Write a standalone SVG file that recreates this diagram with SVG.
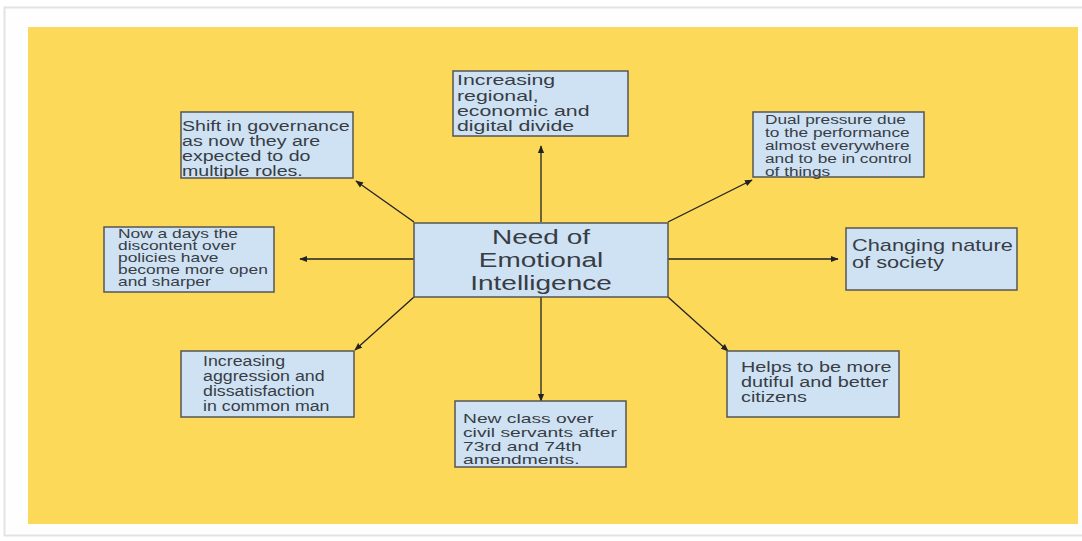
<svg xmlns="http://www.w3.org/2000/svg" width="1082" height="541" viewBox="0 0 1082 541">
<style>
.box{fill:#cfe2f3;stroke:#555;stroke-width:1.5}
.t{font-family:"Liberation Sans",Arial,sans-serif;font-size:14px;fill:#383d45}
.c{stroke:#222;stroke-width:1.3;fill:none;marker-end:url(#ah)}
</style>
<defs>
<marker id="ah" viewBox="0 0 10 10" refX="9" refY="5" markerWidth="6" markerHeight="6" orient="auto"><path d="M0,1 L10,5 L0,9 z" fill="#222"/></marker>
</defs>
<rect x="0" y="0" width="1082" height="541" fill="#ffffff"/>
<rect x="4.5" y="7.5" width="1090" height="528" fill="#fefefe" stroke="#e3e3e3" stroke-width="2"/>
<rect x="28" y="27" width="1050" height="497" fill="#fdd95a"/>
<g id="connectors">
<line class="c" x1="541" y1="222" x2="541" y2="146"/>
<line class="c" x1="414" y1="222" x2="356" y2="181"/>
<line class="c" x1="668" y1="222" x2="752" y2="180"/>
<line class="c" x1="414" y1="259" x2="300" y2="259"/>
<line class="c" x1="668" y1="259" x2="838" y2="259"/>
<line class="c" x1="414" y1="297" x2="355" y2="350"/>
<line class="c" x1="541" y1="297" x2="541" y2="401"/>
<line class="c" x1="668" y1="297" x2="728" y2="351"/>
</g>
<g id="center">
<rect class="box" x="414" y="223" width="254" height="74"/>
<text class="t" style="font-size:20px" text-anchor="middle" transform="translate(541 0) scale(1.4 1)"><tspan x="0" y="244">Need of</tspan><tspan x="0" y="267">Emotional</tspan><tspan x="0" y="290">Intelligence</tspan></text>
</g>
<g id="n-top">
<rect class="box" x="453" y="71" width="175" height="65"/>
<text class="t" style="font-size:15px" transform="translate(457 0) scale(1.42 1)"><tspan x="0" y="85">Increasing</tspan><tspan x="0" y="101">regional,</tspan><tspan x="0" y="116">economic and</tspan><tspan x="0" y="131">digital divide</tspan></text>
</g>
<g id="n-topleft">
<rect class="box" x="181" y="112" width="172" height="66"/>
<text class="t" style="font-size:14px" transform="translate(182 0) scale(1.4 1)"><tspan x="0" y="131">Shift in governance</tspan><tspan x="0" y="146">as now they are</tspan><tspan x="0" y="161">expected to do</tspan><tspan x="0" y="176">multiple roles.</tspan></text>
</g>
<g id="n-topright">
<rect class="box" x="753" y="112" width="171" height="65"/>
<text class="t" style="font-size:12.5px" transform="translate(765 0) scale(1.38 1)"><tspan x="0" y="124">Dual pressure due</tspan><tspan x="0" y="137">to the performance</tspan><tspan x="0" y="150">almost everywhere</tspan><tspan x="0" y="163">and to be in control</tspan><tspan x="0" y="176">of things</tspan></text>
</g>
<g id="n-left">
<rect class="box" x="104" y="227" width="170" height="65"/>
<text class="t" style="font-size:12px" transform="translate(118 0) scale(1.45 1)"><tspan x="0" y="238">Now a days the</tspan><tspan x="0" y="250">discontent over</tspan><tspan x="0" y="262">policies have</tspan><tspan x="0" y="274">become more open</tspan><tspan x="0" y="286">and sharper</tspan></text>
</g>
<g id="n-right">
<rect class="box" x="846" y="228" width="171" height="62"/>
<text class="t" style="font-size:16px" transform="translate(852 0) scale(1.36 1)"><tspan x="0" y="251">Changing nature</tspan><tspan x="0" y="268">of society</tspan></text>
</g>
<g id="n-bottomleft">
<rect class="box" x="181" y="351" width="173" height="66"/>
<text class="t" style="font-size:14px" transform="translate(203 0) scale(1.27 1)"><tspan x="0" y="366">Increasing</tspan><tspan x="0" y="381">aggression and</tspan><tspan x="0" y="396">dissatisfaction</tspan><tspan x="0" y="411">in common man</tspan></text>
</g>
<g id="n-bottom">
<rect class="box" x="455" y="401" width="171" height="66"/>
<text class="t" style="font-size:13px" transform="translate(463 0) scale(1.48 1)"><tspan x="0" y="423">New class over</tspan><tspan x="0" y="437">civil servants after</tspan><tspan x="0" y="451">73rd and 74th</tspan><tspan x="0" y="464">amendments.</tspan></text>
</g>
<g id="n-bottomright">
<rect class="box" x="727" y="351" width="172" height="66"/>
<text class="t" style="font-size:15px" transform="translate(741 0) scale(1.32 1)"><tspan x="0" y="372">Helps to be more</tspan><tspan x="0" y="387">dutiful and better</tspan><tspan x="0" y="402">citizens</tspan></text>
</g>
</svg>
